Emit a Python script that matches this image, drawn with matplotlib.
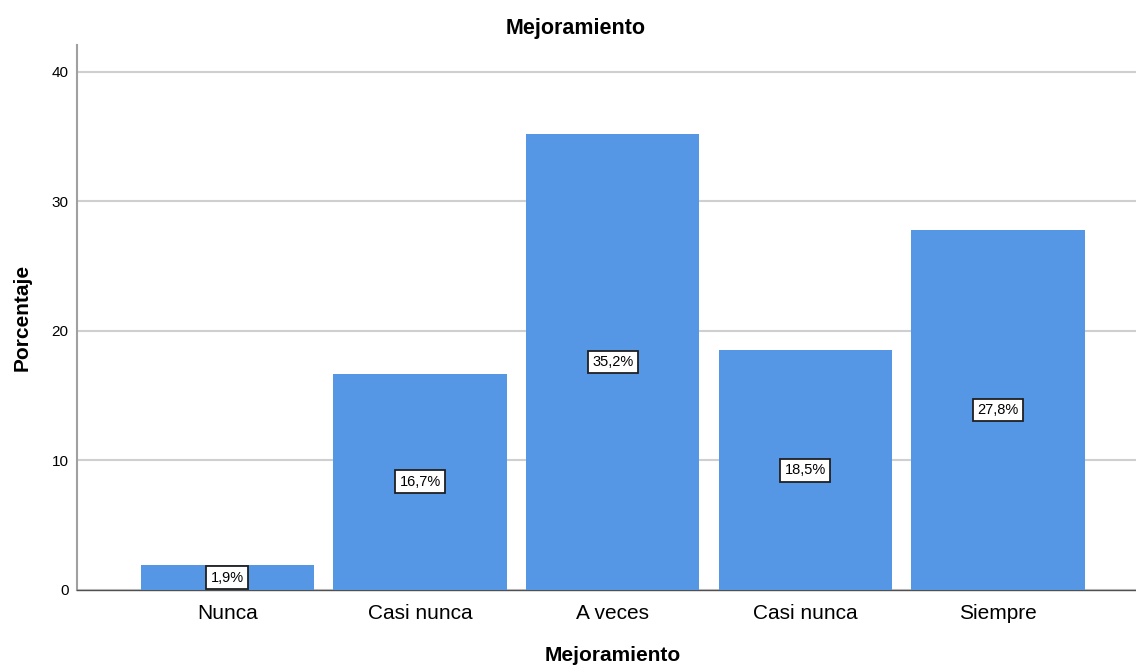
import matplotlib
matplotlib.use("Agg")
import matplotlib.pyplot as plt

plt.rcParams['font.family'] = ['Liberation Sans', 'DejaVu Sans']

categories = ["Nunca", "Casi nunca", "A veces", "Casi nunca", "Siempre"]
percentages = [1.9, 16.7, 35.2, 18.5, 27.8]
y_ticks = [0, 10, 20, 30, 40]

fig = plt.figure(figsize=(11.36, 6.68), dpi=100)
ax = fig.add_axes([0.0678, 0.1168, 0.9322, 0.8163])

x = list(range(len(categories)))
bars = ax.bar(x, percentages, width=0.9, color='#5596e5', zorder=3)

for xi, v in zip(x, percentages):
    ax.text(xi, v / 2, f"{v:.1f}%".replace('.', ','), ha='center', va='center',
            fontsize=10.5, color='black', zorder=4,
            bbox=dict(boxstyle='square,pad=0.3', facecolor='white',
                      edgecolor='#202020', linewidth=1.3))

ax.set_xlim(-0.78, 4.715)
ax.set_ylim(0, 42.1)
ax.set_yticks(y_ticks)
ax.set_yticklabels([str(t) for t in y_ticks], fontsize=11)
ax.set_xticks(x)
ax.set_xticklabels(categories, fontsize=15)
ax.tick_params(axis='x', length=0, pad=10)
ax.tick_params(axis='y', length=0, pad=6)

ax.yaxis.grid(True, color='#cfcfcf', linewidth=1.5, zorder=0)
ax.set_axisbelow(True)

for s in ['top', 'right']:
    ax.spines[s].set_visible(False)
ax.spines['left'].set_color('#a0a0a0')
ax.spines['left'].set_linewidth(1.5)
ax.spines['bottom'].set_color('#505050')
ax.spines['bottom'].set_linewidth(1.0)

ax.set_xlabel("Mejoramiento", fontsize=15, fontweight='bold')
ax.xaxis.set_label_coords(0.506, -0.103)
ax.set_ylabel("Porcentaje", fontsize=15, fontweight='bold')
ax.yaxis.set_label_coords(-0.043, 0.5)
fig.text(0.507, 0.958, "Mejoramiento", ha='center', va='center',
         fontsize=15.5, fontweight='bold')

fig.savefig("out.png", dpi=100)
